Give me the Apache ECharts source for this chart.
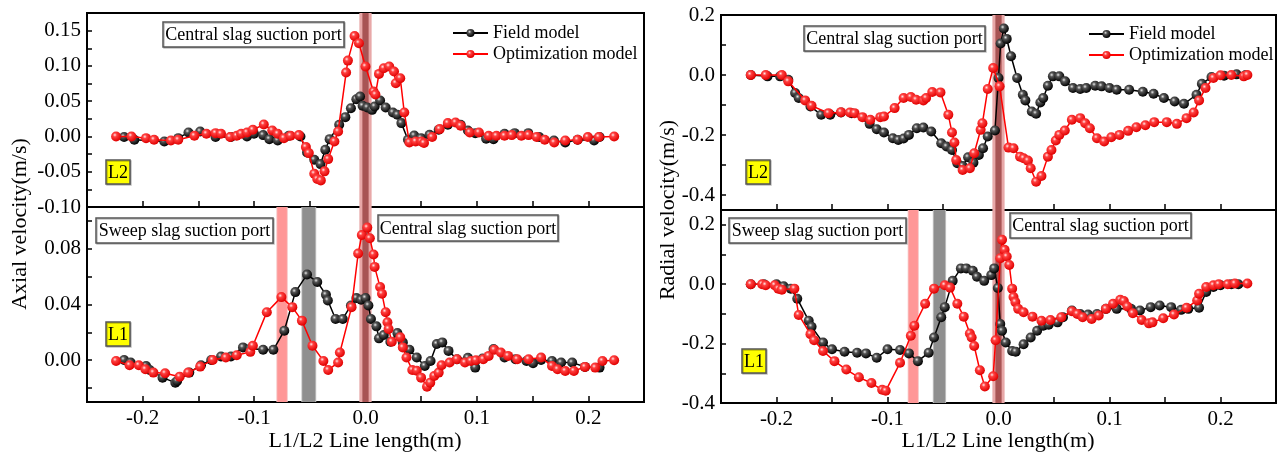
<!DOCTYPE html>
<html>
<head>
<meta charset="utf-8">
<script src="https://cdn.jsdelivr.net/npm/echarts@6/dist/echarts.min.js"></script>
<style>html,body{margin:0;padding:0;background:#fff}#c{width:1281px;height:456px}</style>
</head>
<body>
<div id="c"></div>
<script>
// ---------------- DATA ----------------
// Axial velocity, line L2 (top-left)
const axialL2Field = [[-0.2167,-0.0009],[-0.2075,-0.0047],[-0.1806,-0.0071],[-0.1681,-0.0024],[-0.1589,0.0057],[-0.1484,0.0071],[-0.1346,-0.0009],[-0.1208,-0.0009],[-0.1064,0],[-0.1001,0.0038],[-0.0919,0.0019],[-0.0863,-0.0038],[-0.0788,-0.0057],[-0.0689,0.0009],[-0.0584,0],[-0.0525,-0.0226],[-0.046,-0.033],[-0.0404,-0.0392],[-0.0361,-0.0189],[-0.0322,-0.0038],[-0.0236,0.0165],[-0.0181,0.0274],[-0.0131,0.0401],[-0.0082,0.0528],[-0.0049,0.0566],[-0.0026,0.0434],[0.0016,0.041],[0.0059,0.0377],[0.0082,0.0425],[0.0131,0.0509],[0.0181,0.041],[0.0246,0.034],[0.0286,0.0307],[0.0322,0.0189],[0.0381,-0.0047],[0.0437,0.0014],[0.0499,-0.0024],[0.0575,0.0024],[0.0657,0.0094],[0.0739,0.0165],[0.0854,0.0165],[0.0919,0.0085],[0.0985,0.0047],[0.1083,-0.0033],[0.1149,-0.0038],[0.1248,0.0038],[0.1339,0.0047],[0.1461,0.0047],[0.1559,-0.0009],[0.1691,-0.0057],[0.1793,-0.0085],[0.1904,-0.0047],[0.2052,-0.0057],[0.2101,-0.0009]];
const axialL2Opt = [[-0.2239,0],[-0.2101,0],[-0.197,-0.0024],[-0.1898,-0.0047],[-0.1747,-0.0057],[-0.1681,-0.0047],[-0.1536,0.0009],[-0.1428,0.0038],[-0.1346,0.0047],[-0.1297,0.0038],[-0.1215,-0.0009],[-0.1156,0.0009],[-0.1116,0.0038],[-0.1064,0.0057],[-0.1011,0.0094],[-0.0913,0.017],[-0.0837,0.0085],[-0.0788,0.0038],[-0.0732,-0.0024],[-0.0673,0.0009],[-0.0598,0.0019],[-0.0535,-0.0151],[-0.0509,-0.0236],[-0.046,-0.0528],[-0.0433,-0.0604],[-0.0401,-0.0623],[-0.0368,-0.0495],[-0.0335,-0.0321],[-0.0279,-0.0071],[-0.0246,0.0071],[-0.0174,0.0906],[-0.0158,0.1075],[-0.0098,0.1425],[-0.0059,0.1321],[0,0.0991],[0.0072,0.0637],[0.0089,0.0594],[0.0121,0.0887],[0.0164,0.0967],[0.0213,0.0991],[0.0256,0.092],[0.0272,0.0755],[0.0312,0.0826],[0.0348,0.034],[0.0394,-0.0085],[0.045,-0.0071],[0.0502,-0.0071],[0.0525,-0.0094],[0.0598,-0.0009],[0.0666,0.0104],[0.0739,0.0189],[0.0808,0.0198],[0.0854,0.0151],[0.0936,0.0057],[0.1018,0.0057],[0.1106,0.0009],[0.1175,0.0009],[0.1248,0.0009],[0.1313,0.0019],[0.1399,0.0009],[0.1464,0.0019],[0.1536,-0.0009],[0.1609,-0.0047],[0.1694,-0.0085],[0.1793,-0.0057],[0.1904,-0.0047],[0.1996,-0.0009],[0.2095,-0.0009],[0.2232,0]];
// Axial velocity, line L1 (bottom-left)
const axialL1Field = [[-0.2167,0.0002],[-0.2108,-0.0017],[-0.197,-0.0041],[-0.1937,-0.007],[-0.1822,-0.0125],[-0.1707,-0.0161],[-0.1691,-0.0149],[-0.1582,-0.0089],[-0.1477,-0.0036],[-0.1385,0.0002],[-0.1297,0.0027],[-0.1208,0.0027],[-0.11,0.0092],[-0.1034,0.0084],[-0.0919,0.0075],[-0.0827,0.0075],[-0.0729,0.0212],[-0.063,0.0489],[-0.0525,0.0615],[-0.0433,0.0562],[-0.0355,0.047],[-0.0338,0.0429],[-0.0269,0.0296],[-0.0204,0.0296],[-0.0131,0.0393],[-0.0082,0.0446],[-0.0039,0.0434],[0,0.0446],[0.0026,0.0393],[0.0049,0.0296],[0.0098,0.0243],[0.0121,0.0157],[0.0164,0.0181],[0.0223,0.0133],[0.0286,0.0195],[0.0335,0.0128],[0.0394,0.0075],[0.046,0.0019],[0.0532,-0.0041],[0.0584,-0.0005],[0.064,0.0116],[0.0689,0.0128],[0.0745,0.0067],[0.0821,0.0007],[0.0919,0.0017],[0.0985,-0.0053],[0.1051,0.0012],[0.1149,0.008],[0.1248,0.0019],[0.1346,0.0007],[0.1445,-0.0005],[0.1504,-0.0022],[0.1576,0.0002],[0.1674,-0.0005],[0.1756,-0.0017],[0.1855,-0.0017],[0.197,-0.0048],[0.2101,-0.0053]];
const axialL1Opt = [[-0.2239,-0.0005],[-0.2118,-0.0036],[-0.2035,-0.0036],[-0.1976,-0.0065],[-0.1904,-0.0089],[-0.1799,-0.0094],[-0.1668,-0.0118],[-0.1592,-0.0089],[-0.1484,-0.0046],[-0.1372,0.0002],[-0.1254,0.0019],[-0.1156,0.0036],[-0.1034,0.006],[-0.1011,0.0104],[-0.0886,0.0345],[-0.0755,0.0453],[-0.0657,0.0381],[-0.0571,0.0284],[-0.0476,0.0104],[-0.0378,-0.0005],[-0.0335,-0.007],[-0.0246,-0.0017],[-0.023,0.0055],[-0.0125,0.0381],[-0.0066,0.0766],[-0.0033,0.0899],[0.0016,0.0952],[0.0039,0.0875],[0.0072,0.0759],[0.0082,0.067],[0.0131,0.0525],[0.0148,0.0477],[0.0181,0.0345],[0.0197,0.0272],[0.0207,0.0224],[0.0236,0.0133],[0.0312,0.0164],[0.0335,0.0092],[0.0368,0.0019],[0.042,-0.007],[0.046,-0.0075],[0.0499,-0.0125],[0.0552,-0.019],[0.0581,-0.0161],[0.0617,-0.0113],[0.0657,-0.0089],[0.0683,-0.0036],[0.0755,-0.0017],[0.0821,0.0007],[0.0893,-0.0017],[0.0946,-0.0005],[0.0991,0],[0.1057,0.0007],[0.1106,0.0031],[0.1156,0.0075],[0.1215,0.0055],[0.128,0.0031],[0.1362,0.0007],[0.1464,0.0007],[0.1576,0.0019],[0.1674,-0.0041],[0.1724,-0.0065],[0.1793,-0.0077],[0.1871,-0.0077],[0.197,-0.0048],[0.2062,-0.0053],[0.2127,-0.0005],[0.2232,0]];
// Radial velocity, line L2 (top-right)
const radialL2Field = [[-0.2232,0],[-0.2081,-0.0045],[-0.1968,-0.0045],[-0.1894,-0.0156],[-0.1832,-0.0602],[-0.18,-0.0769],[-0.1694,-0.1048],[-0.1597,-0.1327],[-0.1516,-0.1327],[-0.1419,-0.1249],[-0.1323,-0.1271],[-0.1161,-0.1628],[-0.1097,-0.1806],[-0.1032,-0.1918],[-0.0952,-0.2107],[-0.0903,-0.2163],[-0.0855,-0.2119],[-0.0807,-0.1996],[-0.0736,-0.1773],[-0.0677,-0.1751],[-0.0606,-0.1884],[-0.0516,-0.2275],[-0.0468,-0.2386],[-0.0419,-0.2498],[-0.0371,-0.2944],[-0.0323,-0.3033],[-0.0274,-0.2743],[-0.0226,-0.2921],[-0.0177,-0.2665],[-0.0139,-0.2442],[-0.0097,-0.2052],[-0.0032,-0.1851],[0,-0.01],[0.0019,0.1048],[0.0048,0.155],[0.0074,0.1204],[0.0113,0.0624],[0.0168,-0.01],[0.0219,-0.0658],[0.0242,-0.0847],[0.03,-0.1215],[0.0339,-0.1293],[0.0377,-0.0914],[0.0403,-0.0769],[0.0445,-0.0357],[0.049,-0.0045],[0.0548,-0.0045],[0.06,-0.0212],[0.0671,-0.0435],[0.0736,-0.0468],[0.079,-0.0435],[0.0871,-0.0357],[0.0929,-0.0379],[0.1,-0.0435],[0.1065,-0.0491],[0.1177,-0.0491],[0.13,-0.0558],[0.1397,-0.0624],[0.149,-0.0769],[0.1587,-0.0881],[0.1671,-0.0959],[0.1784,-0.0658],[0.1832,-0.029],[0.1919,-0.0067],[0.2032,-0.0022],[0.2145,0.0022],[0.2226,0]];
const radialL2Opt = [[-0.2232,0],[-0.2097,0],[-0.1952,0],[-0.1894,-0.0212],[-0.1742,-0.0847],[-0.1684,-0.1026],[-0.1532,-0.1271],[-0.1419,-0.1238],[-0.1339,-0.1249],[-0.1297,-0.1271],[-0.1226,-0.1405],[-0.1155,-0.1494],[-0.1065,-0.1405],[-0.1032,-0.1383],[-0.0936,-0.1104],[-0.0855,-0.0769],[-0.079,-0.0736],[-0.0742,-0.0825],[-0.0677,-0.0847],[-0.0652,-0.0769],[-0.0597,-0.0569],[-0.0523,-0.058],[-0.0452,-0.1327],[-0.0419,-0.1918],[-0.0397,-0.2252],[-0.0381,-0.2832],[-0.0323,-0.3167],[-0.0258,-0.3111],[-0.0219,-0.2609],[-0.0161,-0.1829],[-0.0145,-0.1606],[-0.0097,-0.0468],[-0.0048,0.0234],[0.001,-0.0379],[0.009,-0.242],[0.0135,-0.2442],[0.0194,-0.2721],[0.0226,-0.2776],[0.0265,-0.2854],[0.029,-0.3111],[0.0339,-0.3557],[0.0387,-0.3367],[0.0445,-0.2721],[0.0477,-0.2498],[0.0516,-0.2185],[0.0548,-0.1996],[0.0597,-0.1851],[0.0661,-0.1494],[0.0736,-0.1438],[0.0781,-0.1606],[0.0823,-0.1773],[0.0887,-0.2107],[0.0952,-0.2219],[0.1016,-0.2074],[0.109,-0.1996],[0.1168,-0.1862],[0.1242,-0.1739],[0.1323,-0.1673],[0.1403,-0.1572],[0.1516,-0.1572],[0.1607,-0.1628],[0.1694,-0.1438],[0.1758,-0.1249],[0.1807,-0.0847],[0.1865,-0.0435],[0.1936,-0.01],[0.2,-0.0011],[0.2097,0],[0.221,-0.0045],[0.2242,0]];
// Radial velocity, line L1 (bottom-right)
const radialL1Field = [[-0.2232,0],[-0.2113,0],[-0.2,0],[-0.1936,-0.0068],[-0.1871,-0.0148],[-0.1813,-0.0488],[-0.171,-0.1227],[-0.1684,-0.1431],[-0.1581,-0.1965],[-0.15,-0.2192],[-0.1387,-0.2272],[-0.1274,-0.2306],[-0.1194,-0.2329],[-0.1097,-0.2476],[-0.1,-0.2192],[-0.0887,-0.2215],[-0.0807,-0.2329],[-0.0726,-0.259],[-0.0629,-0.2306],[-0.0581,-0.1795],[-0.0516,-0.1113],[-0.0484,-0.0772],[-0.0413,0.0114],[-0.0339,0.0534],[-0.029,0.0534],[-0.0232,0.0454],[-0.0194,0.025],[-0.0129,0.0114],[-0.0065,0.0307],[-0.0039,0.0534],[-0.0006,-0.0125],[0.0016,-0.134],[0.0032,-0.1568],[0.0065,-0.1965],[0.0123,-0.2249],[0.0155,-0.2272],[0.0226,-0.2022],[0.029,-0.1795],[0.0348,-0.1568],[0.0403,-0.1397],[0.0452,-0.1363],[0.0532,-0.1284],[0.0581,-0.1113],[0.0661,-0.0886],[0.0736,-0.1],[0.0807,-0.1022],[0.0887,-0.1],[0.0968,-0.0829],[0.1065,-0.0829],[0.1194,-0.0829],[0.1274,-0.0886],[0.1371,-0.0772],[0.1452,-0.0716],[0.1555,-0.0772],[0.1645,-0.0863],[0.171,-0.0829],[0.1807,-0.0795],[0.1871,-0.0261],[0.1936,-0.0091],[0.2,-0.0034],[0.2097,0],[0.2161,0]];
const radialL1Opt = [[-0.2232,0],[-0.2129,0],[-0.2097,-0.0034],[-0.2016,-0.0034],[-0.1984,-0.0148],[-0.1952,-0.0182],[-0.1839,-0.0148],[-0.18,-0.1034],[-0.1694,-0.1681],[-0.1661,-0.1886],[-0.1581,-0.2249],[-0.1478,-0.259],[-0.1371,-0.2874],[-0.1258,-0.3135],[-0.1145,-0.3328],[-0.1048,-0.3556],[-0.1016,-0.359],[-0.0887,-0.2647],[-0.079,-0.1738],[-0.0758,-0.1397],[-0.0661,-0.0659],[-0.0581,-0.0148],[-0.0484,-0.0034],[-0.0436,-0.0114],[-0.0371,-0.0659],[-0.0313,-0.1091],[-0.0258,-0.1659],[-0.0242,-0.1795],[-0.0219,-0.2079],[-0.0168,-0.2897],[-0.0123,-0.3442],[-0.0048,-0.3101],[-0.0026,-0.1886],[0.0016,0.0875],[0.0032,0.15],[0.0055,0.1159],[0.0074,0.0932],[0.0097,0.0648],[0.0123,-0.0148],[0.0135,-0.0432],[0.0152,-0.0602],[0.0177,-0.0829],[0.0226,-0.0943],[0.0306,-0.1091],[0.0387,-0.1227],[0.0468,-0.1204],[0.0565,-0.1113],[0.0661,-0.0909],[0.071,-0.1],[0.0758,-0.1113],[0.0839,-0.117],[0.0903,-0.1056],[0.0968,-0.0829],[0.1032,-0.0659],[0.1097,-0.0523],[0.1129,-0.0568],[0.1161,-0.075],[0.121,-0.0977],[0.129,-0.1204],[0.1355,-0.1318],[0.1387,-0.1284],[0.1484,-0.1147],[0.1581,-0.1022],[0.1694,-0.0795],[0.179,-0.0545],[0.1807,-0.0318],[0.1871,-0.0091],[0.1936,-0.0034],[0.1984,0],[0.2065,0],[0.2129,0.0023],[0.2242,0.0023]];

// Suction port positions (x ranges, m)
const centralPortOuter = [-0.0055, 0.0055];
const centralPortInner = [-0.0028, 0.0028];
const sweepRedLeft = [-0.0800, -0.0698];
const sweepGrayLeft = [-0.0576, -0.0442];
const sweepRedRight = [-0.0818, -0.0718];
const sweepGrayRight = [-0.0592, -0.0472];

// Tick values and labels
const xTickValues = [-0.2,-0.15,-0.1,-0.05,0,0.05,0.1,0.15,0.2];
const xLabelValues = [-0.2,-0.1,0,0.1,0.2];
const xLabels = ['-0.2','-0.1','0.0','0.1','0.2'];
const yAxialL2TickValues = [-0.075,-0.05,-0.025,0,0.025,0.05,0.075,0.1,0.125,0.15];
const yAxialL2LabelValues = [-0.1,-0.05,0,0.05,0.1,0.15];
const yAxialL2Labels = ['-0.10','-0.05','0.00','0.05','0.10','0.15'];
const yAxialL1TickValues = [-0.02,0,0.02,0.04,0.06,0.08,0.1];
const yAxialL1LabelValues = [0,0.04,0.08];
const yAxialL1Labels = ['0.00','0.04','0.08'];
const yRadialL2TickValues = [-0.4,-0.3,-0.2,-0.1,0,0.1];
const yRadialL2LabelValues = [-0.4,-0.2,0,0.2];
const yRadialL2Labels = ['-0.4','-0.2','0.0','0.2'];
const yRadialL1TickValues = [-0.3,-0.2,-0.1,0,0.1,0.2];
const yRadialL1LabelValues = [-0.4,-0.2,0,0.2];
const yRadialL1Labels = ['-0.4','-0.2','0.0','0.2'];

const seriesNames = ['Field model','Optimization model'];

// ---------------- CHART ----------------
const FONT = '"Liberation Serif","Times New Roman",serif';
const chart = echarts.init(document.getElementById('c'), null, {renderer:'canvas'});

const blackBall = {type:'radial', x:0.38, y:0.35, r:0.65, colorStops:[{offset:0,color:'#e8e8e8'},{offset:0.3,color:'#555'},{offset:1,color:'#000'}]};
const redBall = {type:'radial', x:0.38, y:0.35, r:0.65, colorStops:[{offset:0,color:'#ffe8e8'},{offset:0.3,color:'#ff4040'},{offset:1,color:'#e00000'}]};

const grids = [
  {left:87, top:13, width:557, height:194},
  {left:87, top:207, width:557, height:195},
  {left:721, top:15, width:555, height:195},
  {left:721, top:210, width:555, height:193}
].map(g => Object.assign({show:true, borderColor:'#000', borderWidth:2, backgroundColor:'transparent', containLabel:false}, g));

function mkFmt(vals, labels){
  return function(v){
    for (let i=0;i<vals.length;i++) if (Math.abs(vals[i]-v) < 1e-9) return labels[i];
    return '';
  };
}

function xAxis(gi, showLabels){
  return {
    gridIndex:gi, type:'value', min:-0.25, max:0.25,
    axisLine:{show:true, onZero:false, lineStyle:{color:'#000', width:2}},
    axisTick:{show:true, inside:true, length:6, lineStyle:{color:'#000', width:1.5}, customValues:xTickValues},
    axisLabel:{show:showLabels, customValues:xLabelValues, formatter:mkFmt(xLabelValues,xLabels), fontFamily:FONT, fontSize:21, color:'#000', margin:6},
    splitLine:{show:false}
  };
}
function yAxis(gi, min, max, tickVals, labVals, labs){
  return {
    gridIndex:gi, type:'value', min:min, max:max,
    axisLine:{show:true, onZero:false, lineStyle:{color:'#000', width:2}},
    axisTick:{show:true, inside:true, length:5, lineStyle:{color:'#000', width:1.5}, customValues:tickVals},
    axisLabel:{show:true, customValues:labVals, formatter:mkFmt(labVals,labs), fontFamily:FONT, fontSize:21, color:'#000', margin:6},
    splitLine:{show:false}
  };
}

function lineSeries(gi, name, data, isRed){
  return {
    type:'line', name:name, xAxisIndex:gi, yAxisIndex:gi, data:data,
    symbol:'circle', symbolSize:10, showSymbol:true, animation:false,
    lineStyle:{color: isRed ? '#ff0000' : '#000', width:1.5},
    itemStyle:{color: isRed ? redBall : blackBall, borderWidth:0},
    emphasis:{disabled:true}, z: isRed ? 4 : 3
  };
}
function area(r, color){ return [{xAxis:r[0], itemStyle:{color:color}}, {xAxis:r[1]}]; }
function bandSeries(gi, areas){
  return {type:'line', xAxisIndex:gi, yAxisIndex:gi, data:[], silent:true, z:1, animation:false,
    markArea:{silent:true, data:areas}};
}

const centralAreas = [area(centralPortOuter,'#e8a8a8'), area(centralPortInner,'#a85454')];
const leftLowerAreas = [area(sweepRedLeft,'#f6c2c2'), area([sweepRedLeft[0]+0.0008, sweepRedLeft[1]-0.0008],'#ff9797'),
  area(sweepGrayLeft,'#c8c8c8'), area([sweepGrayLeft[0]+0.0008, sweepGrayLeft[1]-0.0008],'#8f8f8f')].concat(centralAreas);
const rightLowerAreas = [area(sweepRedRight,'#f6c2c2'), area([sweepRedRight[0]+0.0008, sweepRedRight[1]-0.0008],'#ff9797'),
  area(sweepGrayRight,'#c8c8c8'), area([sweepGrayRight[0]+0.0008, sweepGrayRight[1]-0.0008],'#8f8f8f')].concat(centralAreas);

function box(x, y, w, h, text, fill, fs){
  return [
    {type:'rect', shape:{x:x, y:y, width:w, height:h}, style:{fill:fill, stroke:'#555', lineWidth:1.5, shadowColor:'rgba(0,0,0,0.25)', shadowOffsetX:1, shadowOffsetY:1}, z:10},
    {type:'text', x:x+w/2, y:y+h/2+1, style:{text:text, font:fs+'px '+FONT, fill:'#000', align:'center', verticalAlign:'middle'}, z:11}
  ];
}

const graphics = [].concat(
  box(163,22,181,25,'Central slag suction port','#fff',18),
  box(96,218,177,25,'Sweep slag suction port','#fff',18),
  box(378,215,180,26,'Central slag suction port','#fff',18),
  box(804,26,181,25,'Central slag suction port','#fff',18),
  box(729,218,177,25,'Sweep slag suction port','#fff',18),
  box(1010,213,181,25,'Central slag suction port','#fff',18),
  box(106,160,24,24,'L2','#ffff00',18),
  box(106,322,24,24,'L1','#ffff00',18),
  box(746,160,24,24,'L2','#ffff00',18),
  box(742,349,24,24,'L1','#ffff00',18),
  [
    {type:'text', x:365, y:441, style:{text:'L1/L2 Line length(m)', font:'22px '+FONT, fill:'#000', align:'center', verticalAlign:'middle'}},
    {type:'text', x:998, y:441, style:{text:'L1/L2 Line length(m)', font:'22px '+FONT, fill:'#000', align:'center', verticalAlign:'middle'}},
    {type:'text', x:20, y:224, rotation:Math.PI/2, style:{text:'Axial velocity(m/s)', font:'22px '+FONT, fill:'#000', align:'center', verticalAlign:'middle'}},
    {type:'text', x:668, y:210, rotation:Math.PI/2, style:{text:'Radial velocity(m/s)', font:'22px '+FONT, fill:'#000', align:'center', verticalAlign:'middle'}}
  ]
);

function legend(left, top){
  return {show:true, left:left, top:top, orient:'vertical', data:seriesNames, itemWidth:35, itemHeight:10, itemGap:3,
    selectedMode:false, textStyle:{fontFamily:FONT, fontSize:18, color:'#000', lineHeight:18}};
}

const option = {
  animation:false,
  backgroundColor:'#fff',
  grid: grids,
  xAxis: [xAxis(0,false), xAxis(1,true), xAxis(2,false), xAxis(3,true)],
  yAxis: [
    yAxis(0,-0.1,0.175,yAxialL2TickValues,yAxialL2LabelValues,yAxialL2Labels),
    yAxis(1,-0.03,0.11,yAxialL1TickValues,yAxialL1LabelValues,yAxialL1Labels),
    yAxis(2,-0.45,0.2,yRadialL2TickValues,yRadialL2LabelValues,yRadialL2Labels),
    yAxis(3,-0.4,0.25,yRadialL1TickValues,yRadialL1LabelValues,yRadialL1Labels)
  ],
  legend: [legend(447,19), legend(1083,20)],
  series: [
    bandSeries(0, centralAreas),
    bandSeries(1, leftLowerAreas),
    bandSeries(2, centralAreas),
    bandSeries(3, rightLowerAreas),
    lineSeries(0, seriesNames[0], axialL2Field, false),
    lineSeries(0, seriesNames[1], axialL2Opt, true),
    lineSeries(1, seriesNames[0], axialL1Field, false),
    lineSeries(1, seriesNames[1], axialL1Opt, true),
    lineSeries(2, seriesNames[0], radialL2Field, false),
    lineSeries(2, seriesNames[1], radialL2Opt, true),
    lineSeries(3, seriesNames[0], radialL1Field, false),
    lineSeries(3, seriesNames[1], radialL1Opt, true)
  ],
  graphic: graphics
};
chart.setOption(option);
</script>
</body>
</html>
